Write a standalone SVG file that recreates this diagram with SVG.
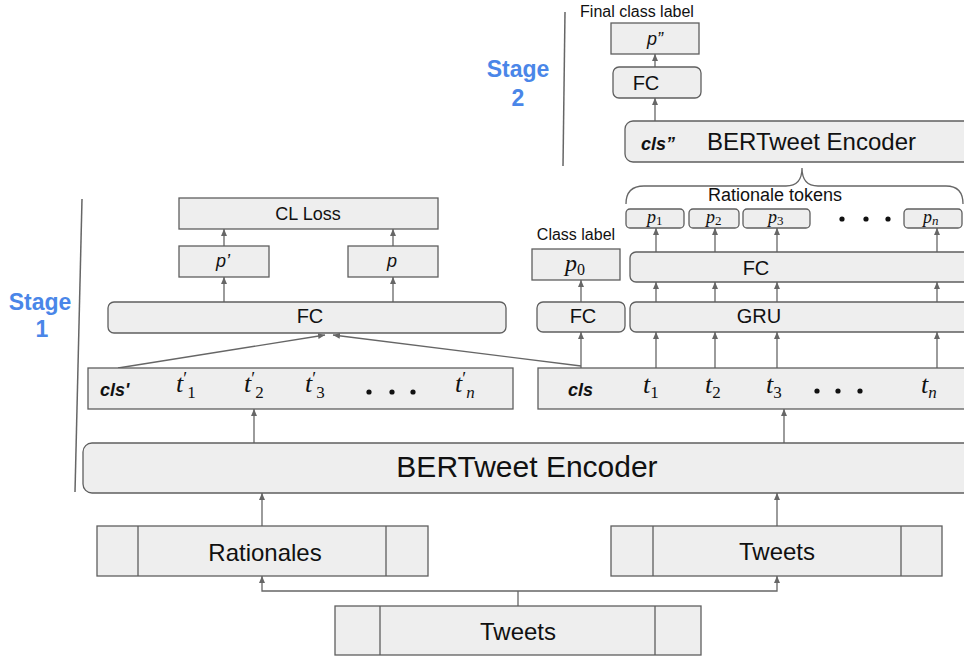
<svg xmlns="http://www.w3.org/2000/svg" width="964" height="658" viewBox="0 0 964 658">
  <style>
    .box { fill: #eeeeee; stroke: #5f5f5f; stroke-width: 1.3; }
    .lbl { font-family: "Liberation Sans", Arial, sans-serif; fill: #111; text-anchor: middle; }
    .it { font-style: italic; }
    .cls { font-family: "Liberation Sans", Arial, sans-serif; font-weight: bold; font-style: italic; font-size: 18px; fill: #111; }
    .math { font-family: "Liberation Serif", "DejaVu Serif", serif; font-style: italic; fill: #111; }
    .up { font-style: normal; }
    .stage { font-family: "Liberation Sans", Arial, sans-serif; font-weight: bold; font-size: 23px; fill: #4a86e8; text-anchor: middle; }
    .conn { fill: none; stroke: #666; stroke-width: 1.3; }
    .arr { marker-end: url(#head); }
    .divider { stroke: #666; stroke-width: 1.5; fill: none; }
    .dot { fill: #111; }
  </style>
  <defs>
    <marker id="head" markerWidth="8" markerHeight="8" refX="7" refY="3" orient="auto" markerUnits="userSpaceOnUse">
      <path d="M0,0 L7,3 L0,6 Z" fill="#666"/>
    </marker>
  </defs>

  <rect width="964" height="658" fill="#ffffff"/>

  <!-- stage labels and dividers -->
  <g id="stage2-label">
    <text class="stage" x="518" y="77">Stage</text>
    <text class="stage" x="518" y="106">2</text>
    <path class="divider" d="M565,12 L563,166"/>
  </g>
  <g id="stage1-label">
    <text class="stage" x="40" y="310">Stage</text>
    <text class="stage" x="42" y="337">1</text>
    <path class="divider" d="M82,199 L75,492"/>
  </g>

  <!-- connectors -->
  <g id="connectors">
    <!-- stage 2 -->
    <path class="conn arr" d="M655,121 L655,98"/>
    <path class="conn arr" d="M655,67 L655,54"/>
    <!-- rationale token heads -->
    <path class="conn arr" d="M656,252 L656,228"/>
    <path class="conn arr" d="M715,252 L715,228"/>
    <path class="conn arr" d="M777,252 L777,228"/>
    <path class="conn arr" d="M937,252 L937,228"/>
    <path class="conn arr" d="M656,302 L656,282"/>
    <path class="conn arr" d="M715,302 L715,282"/>
    <path class="conn arr" d="M777,302 L777,282"/>
    <path class="conn arr" d="M937,302 L937,282"/>
    <path class="conn arr" d="M656,368 L656,332"/>
    <path class="conn arr" d="M715,368 L715,332"/>
    <path class="conn arr" d="M777,368 L777,332"/>
    <path class="conn arr" d="M937,368 L937,332"/>
    <!-- class label head -->
    <path class="conn arr" d="M581,368 L581,332"/>
    <path class="conn arr" d="M581,302 L581,280"/>
    <!-- contrastive head -->
    <path class="conn arr" d="M118,368 L325,335"/>
    <path class="conn arr" d="M581,366 L333,335"/>
    <path class="conn arr" d="M224,302 L224,277"/>
    <path class="conn arr" d="M393,302 L393,277"/>
    <path class="conn arr" d="M224,246 L224,229"/>
    <path class="conn arr" d="M393,246 L393,229"/>
    <!-- encoder outputs -->
    <path class="conn arr" d="M254,443 L254,409"/>
    <path class="conn arr" d="M784,443 L784,409"/>
    <!-- encoder inputs -->
    <path class="conn arr" d="M262,526 L262,493"/>
    <path class="conn arr" d="M777,526 L777,493"/>
    <!-- tweet split -->
    <path class="conn" d="M518,606 L518,591"/>
    <path class="conn arr" d="M518,591 L262,591 L262,576"/>
    <path class="conn arr" d="M518,591 L777,591 L777,576"/>
    <!-- brace over rationale tokens -->
    <path class="conn" d="M626,204 Q626,186 644,186 L786,186 Q802,186 802,168 Q802,186 818,186 L946,186 Q963,186 963,204"/>
  </g>

  <!-- stage 2 nodes -->
  <g id="final-label">
    <text class="lbl" x="637" y="17" font-size="16">Final class label</text>
  </g>
  <g id="p-final">
    <rect class="box" x="611" y="23" width="88" height="31"/>
    <text class="lbl it" x="655" y="45" font-size="18">p”</text>
  </g>
  <g id="fc-stage2">
    <rect class="box" x="613" y="67" width="88" height="31" rx="6"/>
    <text class="lbl" x="646" y="90" font-size="20">FC</text>
  </g>
  <g id="encoder-stage2">
    <rect class="box" x="625" y="121" width="350" height="41" rx="8"/>
    <text class="cls" x="641" y="150">cls”</text>
    <text class="lbl" x="707" y="150" font-size="24" style="text-anchor:start">BERTweet Encoder</text>
  </g>

  <!-- rationale token outputs -->
  <g id="rationale-label">
    <text class="lbl" x="775" y="201" font-size="18">Rationale tokens</text>
  </g>
  <g id="p1">
    <rect class="box" x="626" y="209" width="58" height="19" rx="4"/>
    <text class="math" x="647" y="223" font-size="18">p<tspan class="up" font-size="13" dy="2">1</tspan></text>
  </g>
  <g id="p2">
    <rect class="box" x="689" y="209" width="50" height="19" rx="4"/>
    <text class="math" x="706" y="223" font-size="18">p<tspan class="up" font-size="13" dy="2">2</tspan></text>
  </g>
  <g id="p3">
    <rect class="box" x="743" y="209" width="67" height="19" rx="4"/>
    <text class="math" x="768" y="223" font-size="18">p<tspan class="up" font-size="13" dy="2">3</tspan></text>
  </g>
  <g id="p-dots">
    <circle class="dot" cx="842" cy="219" r="2.6"/>
    <circle class="dot" cx="866" cy="219" r="2.6"/>
    <circle class="dot" cx="888" cy="219" r="2.6"/>
  </g>
  <g id="pn">
    <rect class="box" x="904" y="209" width="58" height="19" rx="4"/>
    <text class="math" x="923" y="223" font-size="18">p<tspan font-size="13" dy="2">n</tspan></text>
  </g>

  <!-- class label head -->
  <g id="class-label">
    <text class="lbl" x="576" y="240" font-size="16">Class label</text>
  </g>
  <g id="p0">
    <rect class="box" x="532" y="249" width="88" height="31"/>
    <text class="math" x="565" y="271" font-size="24">p<tspan class="up" font-size="16" dy="4">0</tspan></text>
  </g>
  <g id="fc-class">
    <rect class="box" x="537" y="302" width="88" height="30" rx="6"/>
    <text class="lbl" x="583" y="323" font-size="20">FC</text>
  </g>
  <g id="fc-token">
    <rect class="box" x="630" y="252" width="345" height="30" rx="6"/>
    <text class="lbl" x="756" y="275" font-size="20">FC</text>
  </g>
  <g id="gru">
    <rect class="box" x="630" y="302" width="345" height="30" rx="6"/>
    <text class="lbl" x="759" y="323" font-size="20">GRU</text>
  </g>

  <!-- tweet token sequence -->
  <g id="tweet-tokens">
    <rect class="box" x="538" y="368" width="437" height="41"/>
    <text class="cls" x="568" y="396">cls</text>
    <text class="math" x="643" y="393" font-size="26">t<tspan class="up" font-size="17" dy="5">1</tspan></text>
    <text class="math" x="705" y="393" font-size="26">t<tspan class="up" font-size="17" dy="5">2</tspan></text>
    <text class="math" x="766" y="393" font-size="26">t<tspan class="up" font-size="17" dy="5">3</tspan></text>
    <circle class="dot" cx="817" cy="391" r="2.6"/>
    <circle class="dot" cx="838" cy="391" r="2.6"/>
    <circle class="dot" cx="860" cy="391" r="2.6"/>
    <text class="math" x="921" y="393" font-size="26">t<tspan font-size="17" dy="5">n</tspan></text>
  </g>

  <!-- contrastive branch -->
  <g id="cl-loss">
    <rect class="box" x="179" y="198" width="259" height="31"/>
    <text class="lbl" x="308" y="220" font-size="18">CL Loss</text>
  </g>
  <g id="p-prime">
    <rect class="box" x="179" y="246" width="90" height="31"/>
    <text class="lbl it" x="223" y="267" font-size="18">p’</text>
  </g>
  <g id="p-plain">
    <rect class="box" x="348" y="246" width="90" height="31"/>
    <text class="lbl it" x="392" y="267" font-size="18">p</text>
  </g>
  <g id="fc-cl">
    <rect class="box" x="108" y="302" width="398" height="31" rx="6"/>
    <text class="lbl" x="310" y="323" font-size="20">FC</text>
  </g>
  <g id="rationale-tokens">
    <rect class="box" x="88" y="368" width="425" height="41"/>
    <text class="cls" x="100" y="396">cls'</text>
    <text class="math" x="176" y="392" font-size="26">t<tspan class="up" font-size="18" dy="-7">′</tspan><tspan class="up" font-size="17" dy="13">1</tspan></text>
    <text class="math" x="244" y="392" font-size="26">t<tspan class="up" font-size="18" dy="-7">′</tspan><tspan class="up" font-size="17" dy="13">2</tspan></text>
    <text class="math" x="305" y="392" font-size="26">t<tspan class="up" font-size="18" dy="-7">′</tspan><tspan class="up" font-size="17" dy="13">3</tspan></text>
    <circle class="dot" cx="369" cy="392" r="2.6"/>
    <circle class="dot" cx="392" cy="392" r="2.6"/>
    <circle class="dot" cx="413" cy="392" r="2.6"/>
    <text class="math" x="455" y="392" font-size="26">t<tspan class="up" font-size="18" dy="-7">′</tspan><tspan font-size="17" dy="13">n</tspan></text>
  </g>

  <!-- shared encoder -->
  <g id="encoder-stage1">
    <rect class="box" x="83" y="443" width="895" height="50" rx="9"/>
    <text class="lbl" x="527" y="477" font-size="30">BERTweet Encoder</text>
  </g>

  <!-- inputs -->
  <g id="rationales-input">
    <rect class="box" x="97" y="526" width="331" height="50"/>
    <path class="conn" d="M138,526 L138,576 M386,526 L386,576" style="stroke:#5f5f5f"/>
    <text class="lbl" x="265" y="561" font-size="24">Rationales</text>
  </g>
  <g id="tweets-input">
    <rect class="box" x="611" y="526" width="331" height="50"/>
    <path class="conn" d="M653,526 L653,576 M901,526 L901,576" style="stroke:#5f5f5f"/>
    <text class="lbl" x="777" y="560" font-size="24">Tweets</text>
  </g>
  <g id="tweets-source">
    <rect class="box" x="335" y="606" width="366" height="49"/>
    <path class="conn" d="M380,606 L380,655 M655,606 L655,655" style="stroke:#5f5f5f"/>
    <text class="lbl" x="518" y="640" font-size="24">Tweets</text>
  </g>
</svg>
